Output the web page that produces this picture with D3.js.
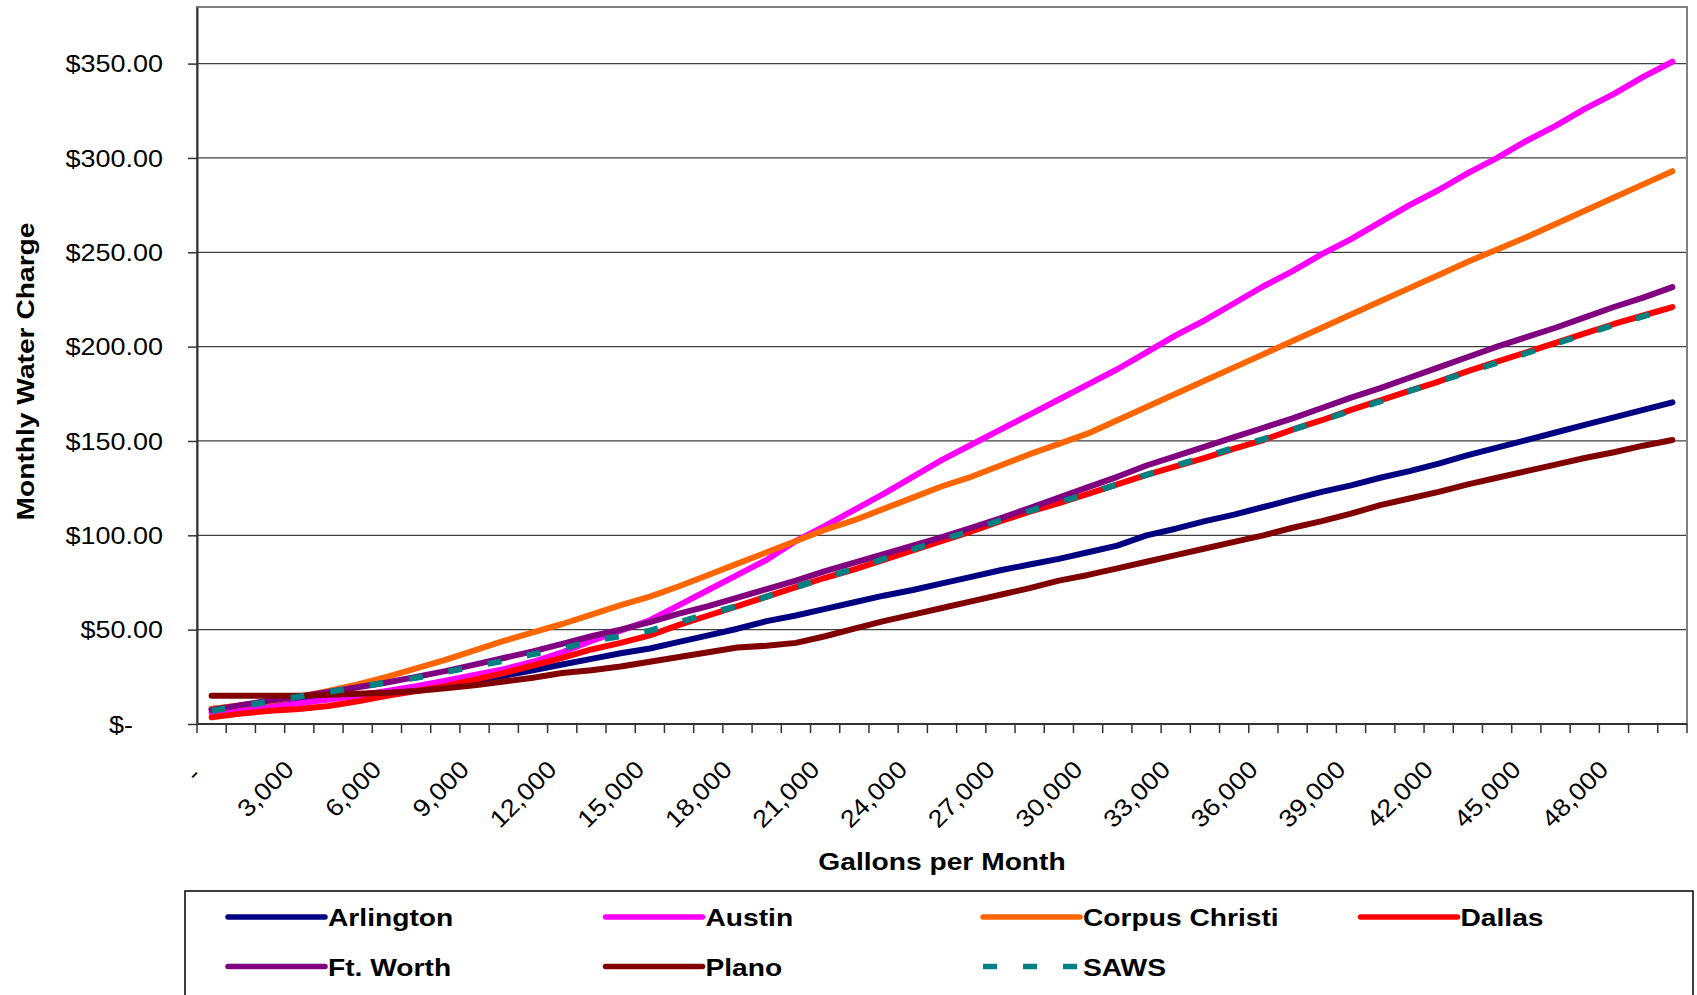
<!DOCTYPE html>
<html><head><meta charset="utf-8">
<script src="https://cdn.jsdelivr.net/npm/d3@7"></script>
<style>
html,body{margin:0;padding:0;background:#fff;overflow:hidden;}
svg text{font-family:Arial,"Liberation Sans",sans-serif;fill:#000;white-space:pre;}
</style></head><body>
<svg id="chart" width="1697" height="995"></svg>
<script>
// ---- data ----
const gallons = [0,1000,2000,3000,4000,5000,6000,7000,8000,9000,10000,11000,12000,13000,14000,15000,16000,17000,18000,19000,20000,21000,22000,23000,24000,25000,26000,27000,28000,29000,30000,31000,32000,33000,34000,35000,36000,37000,38000,39000,40000,41000,42000,43000,44000,45000,46000,47000,48000,49000,50000];
const arlington = [8,9.5,11,12.5,14,15.5,17,18.5,20.5,23,25.5,28.5,31.5,34.5,37.5,40,43.5,47,50.5,54.5,57.5,61,64.5,68,71,74.5,78,81.5,84.5,87.5,91,94.5,100,103.5,107.5,111,115,119,123,126.5,130.5,134,138,142.5,146.5,150.5,154.5,158.5,162.5,166.5,170.5];
const austin = [6,7.5,9,11,13,15,17.5,20,23,26,29,33,38,44,49.5,55,63,71,79,87,97,105,113.5,122,131,140,148,156,164,172,180,188,197,206,214,223,232,240,249,257,266,275,283,292,300,309,317,326,334,343,351];
const corpusChristi = [8,10,12,14.5,17.5,21,25,29.5,34,39,44,48.5,53,58,63,67.5,73,79,85,91,97,103,108,114,120,126,131,137,143,148.5,154,161,168,175,182,189,196,203,210,217,224,231,238,245,251.5,258,265,272,279,286,293];
const dallas = [3.5,5.5,7,8,9.5,12,15,17.5,20,23.5,27,31,35,39.5,43,47,52.5,57.5,62.5,67.5,72.5,77.5,82,87,92,97,102,107.5,112.5,117,122,127,132,136.5,141,146,150.5,156,161,166.5,171.5,176.5,181.5,187,192,197,202,207,212,216.5,221];
const ftWorth = [7.5,10,12.5,14.5,17,19.5,22,25,28,31.5,35,38.5,42.5,46.5,50,54,58.5,62.5,67,71.5,76,81,85.5,90,94.5,99,104,109,114.5,120,125.5,131,137,142,147,152,157,162,167.5,173,178,183.5,189,194.5,200,205,210,215.5,221,226,231.5];
const plano = [15,15,15,15,15.5,16,16.5,17.5,19,20.5,22.5,24.5,27,28.5,30.5,33,35.5,38,40.5,41.5,43,46.5,50.5,54.5,58,61.5,65,68.5,72,76,79,82.5,86,89.5,93,96.5,100,104,107.5,111.5,116,119.5,123,127,130.5,134,137.5,141,144,147.5,150.5];
const saws = [7,9.5,12,14.5,17,19.5,22,24.5,27.5,30.5,33.5,37,40,44,46.5,49.5,54,58.5,62.5,67.5,72.5,77.5,82.5,87.5,92.5,97.5,102.5,108,113,117.5,122,127,132,137,141.5,146.5,151,156,161,166,171,176.5,181.5,186.5,191.5,196.5,201.5,206.5,211.5,216,220.5];

const seriesNames = ["Arlington","Austin","Corpus Christi","Dallas","Ft. Worth","Plano","SAWS"];
const seriesColors = ["#000080","#FF00FF","#FF6600","#FF0000","#800080","#800000","#008080"];
const seriesValues = [arlington, austin, corpusChristi, dallas, ftWorth, plano, saws];

const xLabelValues = [0,3000,6000,9000,12000,15000,18000,21000,24000,27000,30000,33000,36000,39000,42000,45000,48000];
const xLabels = ["- ","3,000","6,000","9,000","12,000","15,000","18,000","21,000","24,000","27,000","30,000","33,000","36,000","39,000","42,000","45,000","48,000"];
const yTicks = [0,50,100,150,200,250,300,350];
const yLabels = ["$-    ","$50.00","$100.00","$150.00","$200.00","$250.00","$300.00","$350.00"];

// ---- layout ----
const L = 197, R = 1687, T = 7, B = 724;
const svg = d3.select("#chart");
const x = d3.scaleBand().domain(gallons).range([L, R]);
const cx = g => x(g) + x.bandwidth() / 2;
const y = d3.scaleLinear().domain([0, 380]).range([B, T]);

function stretch(sel, k) {
  sel.each(function () {
    const len = this.getComputedTextLength();
    if (len > 0) {
      this.setAttribute("textLength", (len * k).toFixed(2));
      this.setAttribute("lengthAdjust", "spacingAndGlyphs");
    }
  });
}

// gridlines
svg.append("g").selectAll("line").data(yTicks.filter(d => d > 0)).join("line")
  .attr("x1", L).attr("x2", R).attr("y1", d => y(d)).attr("y2", d => y(d))
  .attr("stroke", "#404040").attr("stroke-width", 1.2);

// plot border
svg.append("rect").attr("x", L).attr("y", T).attr("width", R - L).attr("height", B - T)
  .attr("fill", "none").attr("stroke", "#808080").attr("stroke-width", 2);

// y axis
const yAxis = d3.axisLeft(y).tickValues(yTicks)
  .tickFormat(d => yLabels[yTicks.indexOf(d)])
  .tickSize(9).tickSizeOuter(0).tickPadding(25);
const gy = svg.append("g").attr("transform", `translate(${L},0)`).call(yAxis);
gy.select(".domain").attr("stroke", "#333").attr("stroke-width", 2);
gy.selectAll(".tick line").attr("stroke", "#333").attr("stroke-width", 1.5);
gy.selectAll(".tick text").attr("font-size", 24.5).attr("fill", "#000")
  .attr("font-family", "Arial, 'Liberation Sans', sans-serif").attr("dy", "0.33em");
stretch(gy.selectAll(".tick text"), 1.1);

// x axis
svg.append("line").attr("x1", L).attr("x2", R).attr("y1", B).attr("y2", B)
  .attr("stroke", "#333").attr("stroke-width", 2);
const edges = gallons.map(g => x(g)).concat([x.range()[1]]);
svg.append("g").selectAll("line").data(edges).join("line")
  .attr("x1", d => d).attr("x2", d => d).attr("y1", B).attr("y2", B + 9)
  .attr("stroke", "#333").attr("stroke-width", 1.5);
const xl = svg.append("g").selectAll("text").data(xLabelValues).join("text")
  .attr("transform", d => `translate(${cx(d) - 4},${B + 47}) rotate(-45)`)
  .attr("text-anchor", "end").attr("font-size", 24.5)
  .text((d, i) => xLabels[i]);
stretch(xl, 1.1);

// lines
const line = d3.line().x((d, i) => cx(gallons[i])).y(d => y(d));
seriesValues.forEach((vals, k) => {
  const p = svg.append("path").datum(vals).attr("d", line)
    .attr("fill", "none").attr("stroke", seriesColors[k]).attr("stroke-width", 6);
  if (seriesNames[k] === "SAWS") {
    p.attr("stroke-dasharray", "14,26").attr("stroke-linecap", "butt").attr("stroke-linejoin", "round");
  } else {
    p.attr("stroke-linecap", "round").attr("stroke-linejoin", "round");
  }
});

// axis titles
const xt = svg.append("text").attr("x", (L + R) / 2).attr("y", 870).attr("text-anchor", "middle")
  .attr("font-size", 24.5).attr("font-weight", "bold").text("Gallons per Month");
stretch(xt, 1.15);
const yt = svg.append("text").attr("transform", `translate(34,${(T + B) / 2 + 6}) rotate(-90)`)
  .attr("text-anchor", "middle").attr("font-size", 24.5).attr("font-weight", "bold")
  .text("Monthly Water Charge");
stretch(yt, 1.15);

// legend
const lg = svg.append("g");
lg.append("rect").attr("x", 185).attr("y", 891).attr("width", 1508).attr("height", 200)
  .attr("fill", "#fff").attr("stroke", "#000").attr("stroke-width", 1.5);
seriesNames.forEach((name, i) => {
  const col = i % 4, row = Math.floor(i / 4);
  const x0 = 228 + col * 377.5, y0 = 917 + row * 49.5;
  const l = lg.append("line").attr("x1", x0).attr("x2", x0 + 97).attr("y1", y0).attr("y2", y0)
    .attr("stroke", seriesColors[i]).attr("stroke-width", 5.5);
  if (name === "SAWS") l.attr("stroke-dasharray", "14,26").attr("stroke-linecap", "butt");
  else l.attr("stroke-linecap", "round");
  const t = lg.append("text").attr("x", x0 + 100).attr("y", y0 + 9)
    .attr("font-size", 24.5).attr("font-weight", "bold").text(name);
  stretch(t, 1.15);
});
</script>
</body></html>
